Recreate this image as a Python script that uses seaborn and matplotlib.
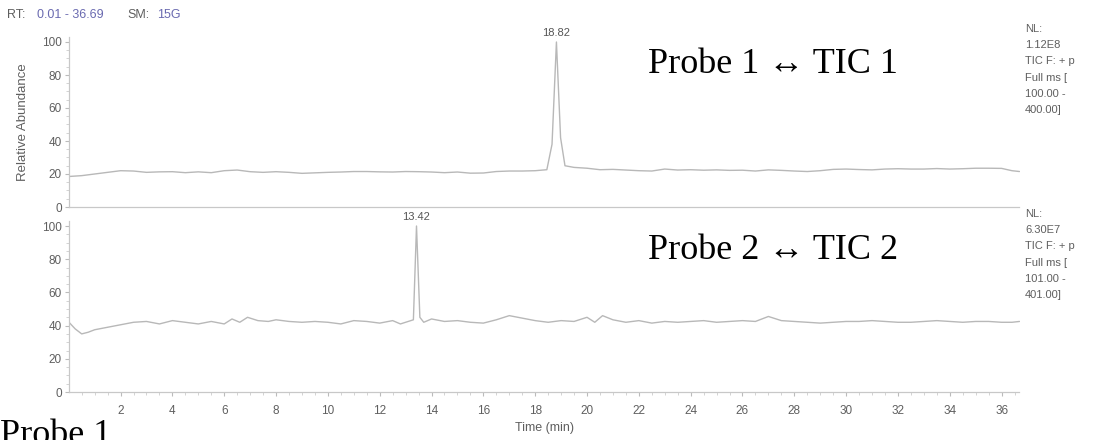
import numpy as np
import pandas as pd
import seaborn as sns
import matplotlib.pyplot as plt
from matplotlib.ticker import MultipleLocator

# TIC 1 (upper trace)
TIME_1 = [0.01, 0.5, 1.0, 1.5, 2.0, 2.5, 3.0, 3.5, 4.0, 4.5, 5.0, 5.5, 6.0, 6.5,
          7.0, 7.5, 8.0, 8.5, 9.0, 9.5, 10.0, 10.5, 11.0, 11.5, 12.0, 12.5,
          13.0, 13.5, 14.0, 14.5, 15.0, 15.5, 16.0, 16.5, 17.0, 17.5, 18.0,
          18.45, 18.65, 18.82, 18.98, 19.15, 19.5, 20.0, 20.5, 21.0, 21.5,
          22.0, 22.5, 23.0, 23.5, 24.0, 24.5, 25.0, 25.5, 26.0, 26.5, 27.0,
          27.5, 28.0, 28.5, 29.0, 29.5, 30.0, 30.5, 31.0, 31.5, 32.0, 32.5,
          33.0, 33.5, 34.0, 34.5, 35.0, 35.5, 36.0, 36.4, 36.69]
TIC_1 = [18.5, 19.0, 20.0, 21.0, 22.0, 21.8, 21.0, 21.3, 21.4, 20.8, 21.3, 20.8,
         22.0, 22.4, 21.4, 21.0, 21.4, 21.0, 20.4, 20.7, 21.0, 21.2, 21.5,
         21.5, 21.3, 21.2, 21.5, 21.4, 21.2, 20.8, 21.2, 20.5, 20.6, 21.5,
         21.8, 21.8, 22.0, 22.6, 38.0, 100.0, 42.0, 25.0, 24.0, 23.5, 22.6,
         22.8, 22.4, 22.0, 21.8, 23.0, 22.4, 22.6, 22.3, 22.5, 22.2, 22.3,
         21.8, 22.5, 22.2, 21.8, 21.5, 22.0, 22.8, 23.0, 22.7, 22.5, 23.0,
         23.2, 23.0, 23.0, 23.3, 23.0, 23.2, 23.5, 23.5, 23.4, 22.0, 21.5]

# TIC 2 (lower trace)
TIME_2 = [0.01, 0.25, 0.5, 0.75, 1.0, 1.5, 2.0, 2.5, 3.0, 3.5, 4.0, 4.5, 5.0,
          5.5, 6.0, 6.3, 6.6, 6.9, 7.3, 7.7, 8.0, 8.5, 9.0, 9.5, 10.0, 10.5,
          11.0, 11.5, 12.0, 12.5, 12.8, 13.1, 13.3, 13.42, 13.55, 13.7, 14.0,
          14.5, 15.0, 15.5, 16.0, 16.5, 17.0, 17.5, 18.0, 18.5, 19.0, 19.5,
          20.0, 20.3, 20.6, 21.0, 21.5, 22.0, 22.5, 23.0, 23.5, 24.0, 24.5,
          25.0, 25.5, 26.0, 26.5, 27.0, 27.5, 28.0, 28.5, 29.0, 29.5, 30.0,
          30.5, 31.0, 31.5, 32.0, 32.5, 33.0, 33.5, 34.0, 34.5, 35.0, 35.5,
          36.0, 36.4, 36.69]
TIC_2 = [42.0, 38.0, 35.0, 36.0, 37.5, 39.0, 40.5, 42.0, 42.5, 41.0, 43.0,
         42.0, 41.0, 42.5, 41.0, 44.0, 42.0, 45.0, 43.0, 42.5, 43.5, 42.5,
         42.0, 42.5, 42.0, 41.0, 43.0, 42.5, 41.5, 43.0, 41.0, 42.5, 43.5,
         100.0, 45.0, 42.0, 44.0, 42.5, 43.0, 42.0, 41.5, 43.5, 46.0, 44.5,
         43.0, 42.0, 43.0, 42.5, 45.0, 42.0, 46.0, 43.5, 42.0, 43.0, 41.5,
         42.5, 42.0, 42.5, 43.0, 42.0, 42.5, 43.0, 42.5, 45.5, 43.0, 42.5,
         42.0, 41.5, 42.0, 42.5, 42.5, 43.0, 42.5, 42.0, 42.0, 42.5, 43.0,
         42.5, 42.0, 42.5, 42.5, 42.0, 42.0, 42.5]

PEAKS = [(18.82, "18.82"), (13.42, "13.42")]
NL_TEXT = ["NL:\n1.12E8\nTIC F: + p\nFull ms [\n100.00 -\n400.00]",
           "NL:\n6.30E7\nTIC F: + p\nFull ms [\n101.00 -\n401.00]"]
PROBE_TEXT = ["Probe 1 \u2194 TIC 1", "Probe 2 \u2194 TIC 2"]

sns.set_style("white")
plt.rcParams["font.family"] = ["Liberation Sans", "DejaVu Sans"]
SERIF = ["Liberation Serif", "DejaVu Serif"]

TXT = "#5f5f5f"
BLUE = "#6a6ab0"

fig = plt.figure(figsize=(10.98, 4.40), dpi=100)
W, H = 1098, 440
left, right = 69 / W, 1019.5 / W
ax_top = fig.add_axes([left, 1 - 207 / H, right - left, (207 - 37) / H])
ax_bot = fig.add_axes([left, 1 - 392 / H, right - left, (392 - 221) / H])

traces = [(ax_top, TIME_1, TIC_1), (ax_bot, TIME_2, TIC_2)]
for i, (ax, t, v) in enumerate(traces):
    df = pd.DataFrame({"time": t, "abundance": v})
    sns.lineplot(data=df, x="time", y="abundance", ax=ax, color="#b8b8b8",
                 linewidth=1.0, estimator=None, sort=False)
    ax.set_xlim(0.01, 36.69)
    ax.set_ylim(0, 100 * (207 - 37) / (207 - 42) if i == 0 else 100 * (392 - 221) / (392 - 226))
    ax.set_xlabel("")
    ax.set_ylabel("")
    for s in ["top", "right"]:
        ax.spines[s].set_visible(False)
    for s in ["left", "bottom"]:
        ax.spines[s].set_color("#c8c8c8")
        ax.spines[s].set_linewidth(0.9)
    ax.set_yticks([0, 20, 40, 60, 80, 100])
    ax.yaxis.set_minor_locator(MultipleLocator(5))
    ax.xaxis.set_minor_locator(MultipleLocator(0.5))
    ax.tick_params(axis="y", which="major", length=3, color="#bbbbbb",
                   labelsize=8.5, labelcolor=TXT, pad=2, left=True)
    ax.tick_params(axis="y", which="minor", length=2, color="#cccccc", left=True)
    ax.set_facecolor("none")

    x_pk, lab = PEAKS[i]
    ax.text(x_pk, 102.5, lab, ha="center", va="bottom", fontsize=8, color="#555555",
            clip_on=False)
    fig.text(1025 / W, 1 - (24 + 185 * i) / H, NL_TEXT[i], ha="left", va="top",
             fontsize=8, color=TXT, linespacing=1.78)
    fig.text(648 / W, 1 - (73 + 186 * i) / H, PROBE_TEXT[i], ha="left",
             va="baseline", fontsize=26, color="black", family=SERIF)

ax_top.tick_params(axis="x", which="both", bottom=False, labelbottom=False)
ax_bot.tick_params(axis="x", which="major", length=3, color="#bbbbbb",
                   labelsize=8.5, labelcolor=TXT, pad=6, bottom=True)
ax_bot.tick_params(axis="x", which="minor", length=2, color="#cccccc", bottom=True)
ax_bot.set_xticks(np.arange(2, 37, 2))
ax_bot.set_xlabel("Time (min)", fontsize=9, color=TXT, labelpad=4)
ax_top.set_ylabel("Relative Abundance", fontsize=9.5, color=TXT)
ax_top.yaxis.set_label_coords(-40 / (right * W - left * W), 0.5)

# header line
for x_px, s, c in [(7, "RT:", TXT), (37, "0.01 - 36.69", BLUE),
                   (127, "SM:", TXT), (157, "15G", BLUE)]:
    fig.text(x_px / W, 1 - 15 / H, s, fontsize=9, color=c, va="center")

fig.text(0, 1 - 444 / H, "Probe 1", fontsize=26, color="black",
         va="baseline", family=SERIF)

fig.savefig("out.png", dpi=100)
